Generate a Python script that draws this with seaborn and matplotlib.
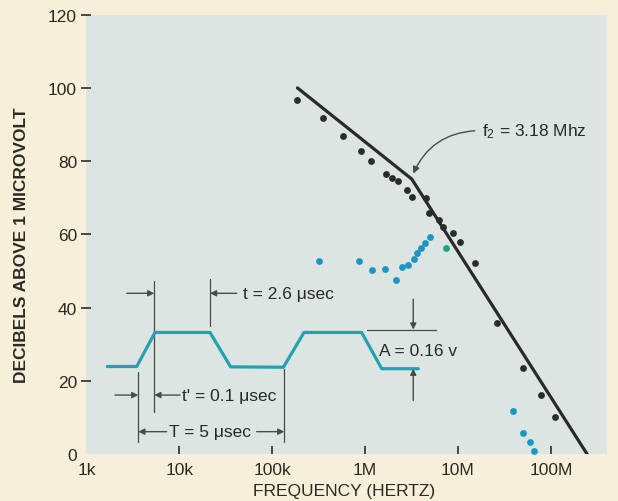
import matplotlib
matplotlib.use("Agg")
import matplotlib.pyplot as plt
import numpy as np
import pandas as pd
import seaborn as sns

# ---- data -------------------------------------------------------------
# Measured spectrum of the pulse train (black points)
black_freq = [1.85e5, 3.56e5, 5.75e5, 9.06e5, 1.16e6, 1.68e6, 1.94e6, 2.28e6,
              2.81e6, 3.23e6, 4.49e6, 4.88e6, 6.3e6, 6.95e6, 8.9e6, 1.05e7,
              1.52e7, 2.61e7, 5.06e7, 7.76e7, 1.12e8]
black_db = [96.6, 91.9, 86.8, 82.7, 79.9, 76.5, 75.4, 74.5,
            72.2, 70.1, 70.0, 65.9, 64.0, 61.9, 60.3, 58.0,
            52.2, 35.8, 23.6, 16.2, 10.2]

# Second measurement set (blue points)
blue_freq = [3.23e5, 8.6e5, 1.2e6, 1.64e6, 2.14e6, 2.52e6, 2.9e6, 3.39e6,
             3.66e6, 3.97e6, 4.42e6, 5.0e6, 3.94e7, 4.97e7, 5.96e7, 6.57e7]
blue_db = [52.8, 52.6, 50.3, 50.5, 47.6, 51.1, 51.5, 53.2,
           54.8, 56.2, 57.7, 59.2, 11.7, 5.7, 3.4, 0.9]

green_freq = [7.38e6]
green_db = [56.3]

# Asymptotic envelope: -20 dB/decade up to f2, -40 dB/decade beyond
env_freq = [1.87e5, 3.18e6, 2.45e8]
env_db = [100.0, 75.1, 0.0]

# Trapezoidal pulse sketch
pulse_freq = [1.68e3, 3.48e3, 5.47e3, 2.14e4, 3.57e4, 1.32e5, 2.2e5, 9.18e5,
              1.51e6, 3.74e6]
pulse_db = [23.9, 23.9, 33.2, 33.2, 23.8, 23.7, 33.2, 33.2, 23.3, 23.3]

y_ticks = [0, 20, 40, 60, 80, 100, 120]
x_ticks = [1e3, 1e4, 1e5, 1e6, 1e7, 1e8]
x_labels = ["1k", "10k", "100k", "1M", "10M", "100M"]

# ---- style ------------------------------------------------------------
sns.set_theme(style="white")
plt.rcParams["font.family"] = ["Liberation Sans", "DejaVu Sans"]
plt.rcParams["mathtext.fontset"] = "custom"
plt.rcParams["mathtext.rm"] = "Liberation Sans"
plt.rcParams["mathtext.it"] = "Liberation Sans"

page = "#f7efda"
panel = "#dce5e1"
ink = "#2a2a24"
dot_black = "#2b2b2b"
dot_blue = "#1b95c4"
pulse_col = "#23a0b2"
dim = "#4a4a4a"

fig = plt.figure(figsize=(6.18, 5.02), dpi=100, facecolor=page)
ax = fig.add_axes([86.4 / 618, 1 - 455 / 502, (607 - 86.4) / 618, (455 - 15.7) / 502])
ax.set_facecolor(panel)
ax.set_xscale("log")

env = pd.DataFrame({"freq": env_freq, "db": env_db})
pulse = pd.DataFrame({"freq": pulse_freq, "db": pulse_db})
black = pd.DataFrame({"freq": black_freq, "db": black_db})
blue = pd.DataFrame({"freq": blue_freq, "db": blue_db})
green = pd.DataFrame({"freq": green_freq, "db": green_db})

sns.lineplot(data=env, x="freq", y="db", ax=ax, color="#2a2a2a", lw=2.3,
             estimator=None, sort=False, zorder=3)
sns.lineplot(data=pulse, x="freq", y="db", ax=ax, color=pulse_col, lw=2.3,
             estimator=None, sort=False, zorder=3)
sns.scatterplot(data=black, x="freq", y="db", ax=ax, color=dot_black, s=24,
                linewidth=0, zorder=4)
sns.scatterplot(data=blue, x="freq", y="db", ax=ax, color=dot_blue, s=24,
                linewidth=0, zorder=4)
sns.scatterplot(data=green, x="freq", y="db", ax=ax, color="#1ea184", s=24,
                linewidth=0, zorder=4)

ax.set_xlim(1e3, 10 ** 8.604)
ax.set_ylim(0, 120)
for s in ax.spines.values():
    s.set_visible(False)

ax.set_xticks(x_ticks)
ax.set_xticklabels(x_labels)
ax.xaxis.set_minor_locator(matplotlib.ticker.NullLocator())
ax.set_yticks(y_ticks)
ax.tick_params(axis="x", direction="in", length=6, width=1.3, color="#3a3a3a",
               pad=6, labelsize=12.5, labelcolor=ink, bottom=True)
ax.tick_params(axis="y", direction="inout", length=7.5, width=1.3, color="#3a3a3a",
               pad=3, labelsize=12.5, labelcolor=ink, left=True)
ax.xaxis.get_major_ticks()[0].tick1line.set_visible(False)
ax.yaxis.get_major_ticks()[0].tick1line.set_visible(False)

ax.set_xlabel("FREQUENCY (HERTZ)", fontsize=12.5, color=ink, va="center")
ax.xaxis.set_label_coords(0.494, -0.083)
ax.set_ylabel("DECIBELS ABOVE 1 MICROVOLT", fontsize=12.5, fontweight="bold",
              color=ink, va="center")
ax.yaxis.set_label_coords(-0.125, 0.478)


# ---- pulse dimensioning ----------------------------------------------
def arrow(tail, tip):
    ax.annotate("", xy=tip, xytext=tail,
                arrowprops=dict(arrowstyle="-|>", color=dim, lw=1.0,
                                mutation_scale=9, shrinkA=0, shrinkB=0),
                zorder=5)


def vline(x, y0, y1):
    ax.plot([x, x], [y0, y1], color=dim, lw=0.9, zorder=2)


vline(3.62e3, 3.3, 22.4)
vline(5.38e3, 11.4, 47.3)
vline(2.14e4, 35.0, 47.8)
vline(1.35e5, 3.3, 23.2)

# rise time t'
arrow((2.03e3, 16.1), (3.62e3, 16.1))
arrow((1.02e4, 16.1), (5.38e3, 16.1))
ax.text(1.08e4, 16.1, "t' = 0.1 \u03bcsec", fontsize=12.5, color=ink,
        va="center", ha="left")

# pulse width t
arrow((2.72e3, 43.9), (5.38e3, 43.9))
arrow((4.15e4, 43.9), (2.14e4, 43.9))
ax.text(4.9e4, 43.9, "t = 2.6 \u03bcsec", fontsize=12.5, color=ink,
        va="center", ha="left")

# period T
arrow((7.3e3, 6.1), (3.62e3, 6.1))
arrow((6.8e4, 6.1), (1.35e5, 6.1))
ax.text(2.13e4, 6.1, "T = 5 \u03bcsec", fontsize=12.5, color=ink,
        va="center", ha="center")

# amplitude A
ax.plot([1.06e6, 5.8e6], [34.0, 34.0], color=dim, lw=0.9, zorder=2)
arrow((3.3e6, 42.3), (3.3e6, 34.0))
arrow((3.3e6, 14.6), (3.3e6, 23.3))
ax.text(3.74e6, 28.2, "A = 0.16 v", fontsize=12.5, color=ink,
        va="center", ha="center")

# corner frequency
ax.annotate("", xy=(3.3e6, 76.6), xytext=(1.52e7, 88.3),
            arrowprops=dict(arrowstyle="-|>", color=dim, lw=1.0,
                            mutation_scale=10, shrinkA=0, shrinkB=0,
                            connectionstyle="arc3,rad=0.3"),
            zorder=5)
ax.text(1.8e7, 88.4, "f$_\\mathregular{2}$ = 3.18 Mhz", fontsize=12.5, color=ink,
        va="center", ha="left")

fig.savefig("out.png", dpi=100, facecolor=page)
